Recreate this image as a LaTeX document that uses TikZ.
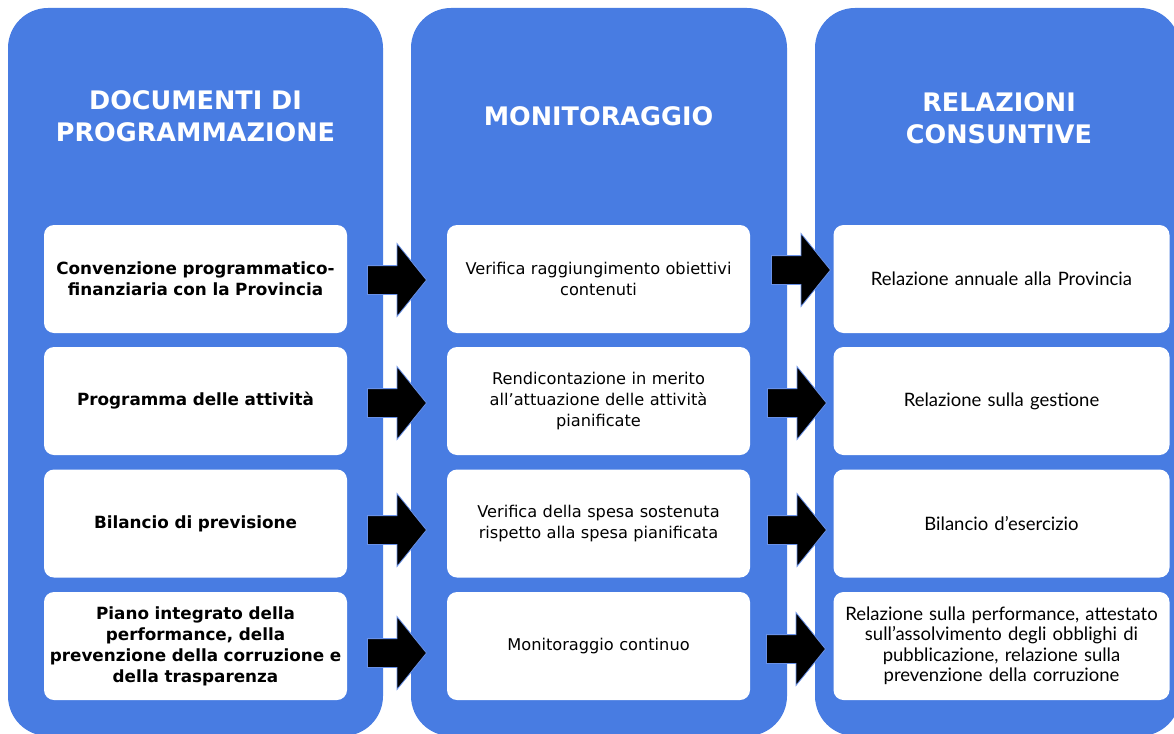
\documentclass[tikz,border=0pt]{standalone}
\usepackage{fontspec}
\setmainfont{DejaVu Sans}
\newfontfamily\relfont{Lato}
\usetikzlibrary{shapes.arrows}
\usetikzlibrary{positioning}
\definecolor{colblue}{RGB}{72,124,226}
\definecolor{arrowedge}{RGB}{105,145,232}

\begin{document}
\begin{tikzpicture}[x=1pt,y=-1pt,
  column/.style={fill=colblue,draw=none,rounded corners=40pt},
  title/.style={text=white,align=center,font=\bfseries\fontsize{25.5}{32}\selectfont},
  box/.style={fill=white,draw=none,rounded corners=10pt,minimum height=108pt,align=center,inner sep=0pt},
  progbox/.style={box,minimum width=303pt,text width=298pt,font=\bfseries\fontsize{16.8}{21}\selectfont},
  monbox/.style={box,minimum width=303pt,text width=296pt,font=\fontsize{16.2}{21}\selectfont},
  relbox/.style={box,minimum width=336pt,text width=332pt,font=\relfont\fontsize{18.5}{20.5}\selectfont},
  blockarrow/.style={single arrow,fill=black,draw=arrowedge,line width=0.8pt,minimum height=59pt,inner xsep=0pt,inner ysep=14pt,single arrow head extend=22pt,single arrow tip angle=102,anchor=tip}
]
\useasboundingbox (0,0) rectangle (1174,733);

% colonne
\draw[column] (8,8) rectangle (383,736);
\draw[column] (411,8) rectangle (787,736);
\draw[column] (815,8) rectangle (1180,736);

\node[title] (tprog) at (195.5,116) {DOCUMENTI DI\\PROGRAMMAZIONE};
\node[title] (tmon) at (598.5,116) {MONITORAGGIO};
\node[title] (trel) at (999,118) {RELAZIONI\\CONSUNTIVE};

% documenti di programmazione
\node[progbox] (p1) at (195.5,279) {Convenzione programmatico-\\finanziaria con la Provincia};
\node[progbox] (p2) at (195.5,401) {Programma delle attività};
\node[progbox] (p3) at (195.5,523.5) {Bilancio di previsione};
\node[progbox] (p4) at (195.5,646) {Piano integrato della\\performance, della\\prevenzione della corruzione e\\della trasparenza};

% monitoraggio
\node[monbox] (m1) at (598.5,279) {Verifica raggiungimento obiettivi\\contenuti};
\node[monbox] (m2) at (598.5,401) {Rendicontazione in merito\\all’attuazione delle attività\\pianificate};
\node[monbox] (m3) at (598.5,523.5) {Verifica della spesa sostenuta\\rispetto alla spesa pianificata};
\node[monbox] (m4) at (598.5,646) {Monitoraggio continuo};

% relazioni consuntive
\node[relbox] (r1) at (1001.5,279) {Relazione annuale alla Provincia};
\node[relbox] (r2) at (1001.5,401) {Relazione sulla gestione};
\node[relbox] (r3) at (1001.5,523.5) {Bilancio d’esercizio};
\node[relbox] (r4) at (1001.5,646) {Relazione sulla performance, attestato\\sull’assolvimento degli obblighi di\\pubblicazione, relazione sulla\\prevenzione della corruzione};

% frecce
\node[blockarrow] (a1) at (427,280) {};
\node[blockarrow] (a2) at (427,403) {};
\node[blockarrow] (a3) at (427,530) {};
\node[blockarrow] (a4) at (427,653) {};
\node[blockarrow] (b1) at (831,270) {};
\node[blockarrow] (b2) at (827,403) {};
\node[blockarrow] (b3) at (827,530) {};
\node[blockarrow] (b4) at (826,649) {};

\end{tikzpicture}
\end{document}
